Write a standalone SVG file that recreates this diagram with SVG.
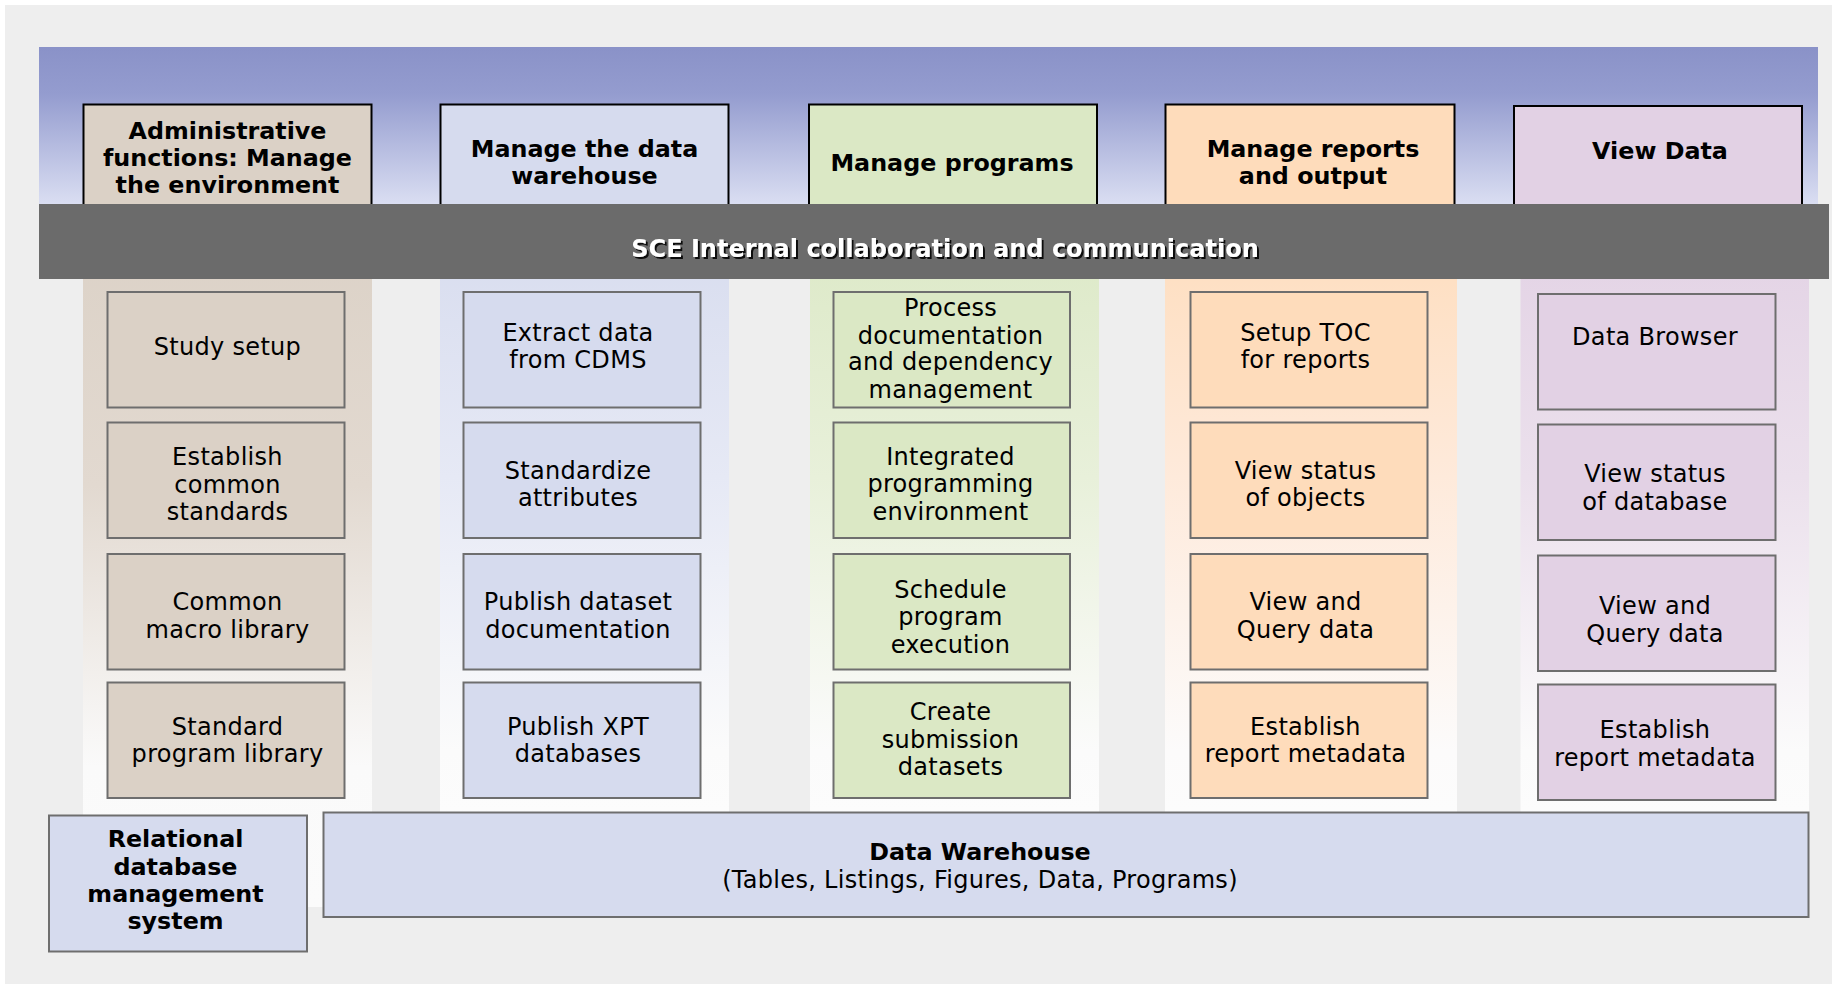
<svg xmlns="http://www.w3.org/2000/svg" width="1832" height="984" viewBox="0 0 1832 984">
<defs>
<linearGradient id="band" x1="0" y1="0" x2="0" y2="1">
<stop offset="0" stop-color="#8a92c8"/>
<stop offset="0.3" stop-color="#949ccf"/>
<stop offset="1" stop-color="#dadef2"/>
</linearGradient>
<linearGradient id="g1" x1="0" y1="0" x2="0" y2="1">
<stop offset="0" stop-color="#dbd1c6"/><stop offset="0.4" stop-color="#e2d9d0"/><stop offset="0.8" stop-color="#fafafa"/><stop offset="1" stop-color="#fbfbfb"/>
</linearGradient>
<linearGradient id="g2" x1="0" y1="0" x2="0" y2="1">
<stop offset="0" stop-color="#d6dbee"/><stop offset="0.45" stop-color="#e6e9f5"/><stop offset="0.9" stop-color="#fbfbfb"/><stop offset="1" stop-color="#fcfcfc"/>
</linearGradient>
<linearGradient id="g3" x1="0" y1="0" x2="0" y2="1">
<stop offset="0" stop-color="#dbe8c5"/><stop offset="0.45" stop-color="#e8f0da"/><stop offset="0.9" stop-color="#fbfbfb"/><stop offset="1" stop-color="#fcfcfc"/>
</linearGradient>
<linearGradient id="g4" x1="0" y1="0" x2="0" y2="1">
<stop offset="0" stop-color="#fedcbb"/><stop offset="0.45" stop-color="#feeadb"/><stop offset="0.9" stop-color="#fcfbfb"/><stop offset="1" stop-color="#fcfcfc"/>
</linearGradient>
<linearGradient id="g5" x1="0" y1="0" x2="0" y2="1">
<stop offset="0" stop-color="#e2d1e4"/><stop offset="0.45" stop-color="#ebe0ec"/><stop offset="0.9" stop-color="#fbfbfb"/><stop offset="1" stop-color="#fcfcfc"/>
</linearGradient>
<filter id="sh" x="-5%" y="-30%" width="110%" height="160%">
<feDropShadow dx="2" dy="2" stdDeviation="0.3" flood-color="#111" flood-opacity="1"/>
</filter>
</defs>
<style>
text{font-family:"DejaVu Sans",Verdana,sans-serif;text-anchor:middle;fill:#000}
.h{font-weight:bold;font-size:23.8px}
.t{font-size:24px;letter-spacing:0.3px}
.hb{stroke:#000;stroke-width:2}
.ib{stroke:#6e6e6e;stroke-width:2}
.f1{fill:#dbd1c6}.f2{fill:#d6dbee}.f3{fill:#dbe8c5}.f4{fill:#fedcbb}.f5{fill:#e2d1e4}
</style>
<rect x="5" y="5" width="1827" height="979" fill="#eeeeee"/>
<rect x="39" y="47" width="1779" height="157" fill="url(#band)"/>
<g id="columns">
<rect x="83" y="204" width="289" height="703" fill="url(#g1)"/>
<rect x="440" y="204" width="289" height="608" fill="url(#g2)"/>
<rect x="810" y="204" width="289" height="608" fill="url(#g3)"/>
<rect x="1165" y="204" width="292" height="608" fill="url(#g4)"/>
<rect x="1520.5" y="204" width="288.5" height="608" fill="url(#g5)"/>
</g>
<g id="header-admin">
<rect class="hb f1" x="83.5" y="104.5" width="288" height="110"/>
<text class="h" x="227.5" y="139">Administrative</text>
<text class="h" x="227.5" y="166">functions: Manage</text>
<text class="h" x="227.5" y="193">the environment</text>
</g>
<g id="header-warehouse">
<rect class="hb f2" x="440.5" y="104.5" width="288" height="110"/>
<text class="h" x="584.5" y="157">Manage the data</text>
<text class="h" x="584.5" y="184">warehouse</text>
</g>
<g id="header-programs">
<rect class="hb f3" x="809" y="104.5" width="288" height="110"/>
<text class="h" x="952" y="171">Manage programs</text>
</g>
<g id="header-reports">
<rect class="hb f4" x="1165.5" y="104.5" width="289" height="110"/>
<text class="h" x="1313" y="157">Manage reports</text>
<text class="h" x="1313" y="184">and output</text>
</g>
<g id="header-view">
<rect class="hb f5" x="1514" y="106" width="288" height="108"/>
<text class="h" x="1660" y="159">View Data</text>
</g>
<g id="sce-bar">
<rect x="39" y="204" width="1790" height="75" fill="#6b6b6b"/>
<text x="945" y="257" font-size="24" font-weight="bold" fill="#fff" style="fill:#fff" filter="url(#sh)">SCE Internal collaboration and communication</text>
</g>
<g id="study-setup"><rect class="ib f1" x="107.5" y="292" width="237" height="115.5"/><text class="t" x="227.5" y="355">Study setup</text></g>
<g id="establish-standards"><rect class="ib f1" x="107.5" y="422.5" width="237" height="115.5"/><text class="t" x="227.5" y="465">Establish</text><text class="t" x="227.5" y="492.5">common</text><text class="t" x="227.5" y="520">standards</text></g>
<g id="macro-library"><rect class="ib f1" x="107.5" y="554" width="237" height="115.5"/><text class="t" x="227.5" y="610">Common</text><text class="t" x="227.5" y="637.5">macro library</text></g>
<g id="program-library"><rect class="ib f1" x="107.5" y="682.5" width="237" height="115.5"/><text class="t" x="227.5" y="734.5">Standard</text><text class="t" x="227.5" y="762">program library</text></g>

<g id="extract-data"><rect class="ib f2" x="463.5" y="292" width="237" height="115.5"/><text class="t" x="578" y="341">Extract data</text><text class="t" x="578" y="368">from CDMS</text></g>
<g id="standardize"><rect class="ib f2" x="463.5" y="422.5" width="237" height="115.5"/><text class="t" x="578" y="479">Standardize</text><text class="t" x="578" y="505.5">attributes</text></g>
<g id="publish-doc"><rect class="ib f2" x="463.5" y="554" width="237" height="115.5"/><text class="t" x="578" y="610">Publish dataset</text><text class="t" x="578" y="637.5">documentation</text></g>
<g id="publish-xpt"><rect class="ib f2" x="463.5" y="682.5" width="237" height="115.5"/><text class="t" x="578" y="734.5">Publish XPT</text><text class="t" x="578" y="762">databases</text></g>

<g id="process-doc"><rect class="ib f3" x="833.5" y="292" width="236.5" height="115.5"/><text class="t" x="950.5" y="316">Process</text><text class="t" x="950.5" y="343.5">documentation</text><text class="t" x="950.5" y="370">and dependency</text><text class="t" x="950.5" y="397.5">management</text></g>
<g id="ide"><rect class="ib f3" x="833.5" y="422.5" width="236.5" height="115.5"/><text class="t" x="950.5" y="465">Integrated</text><text class="t" x="950.5" y="492">programming</text><text class="t" x="950.5" y="520">environment</text></g>
<g id="schedule"><rect class="ib f3" x="833.5" y="554" width="236.5" height="115.5"/><text class="t" x="950.5" y="597.5">Schedule</text><text class="t" x="950.5" y="625">program</text><text class="t" x="950.5" y="653">execution</text></g>
<g id="submission"><rect class="ib f3" x="833.5" y="682.5" width="236.5" height="115.5"/><text class="t" x="950.5" y="720">Create</text><text class="t" x="950.5" y="747.5">submission</text><text class="t" x="950.5" y="775">datasets</text></g>

<g id="setup-toc"><rect class="ib f4" x="1190.5" y="292" width="237" height="115.5"/><text class="t" x="1305.5" y="341">Setup TOC</text><text class="t" x="1305.5" y="368">for reports</text></g>
<g id="status-objects"><rect class="ib f4" x="1190.5" y="422.5" width="237" height="115.5"/><text class="t" x="1305.5" y="479">View status</text><text class="t" x="1305.5" y="505.5">of objects</text></g>
<g id="query-reports"><rect class="ib f4" x="1190.5" y="554" width="237" height="115.5"/><text class="t" x="1305.5" y="610">View and</text><text class="t" x="1305.5" y="637.5">Query data</text></g>
<g id="metadata-reports"><rect class="ib f4" x="1190.5" y="682.5" width="237" height="115.5"/><text class="t" x="1305.5" y="734.5">Establish</text><text class="t" x="1305.5" y="761.5">report metadata</text></g>

<g id="data-browser"><rect class="ib f5" x="1538" y="294" width="237.5" height="115.5"/><text class="t" x="1655" y="344.5">Data Browser</text></g>
<g id="status-database"><rect class="ib f5" x="1538" y="424.5" width="237.5" height="115.5"/><text class="t" x="1655" y="482">View status</text><text class="t" x="1655" y="510">of database</text></g>
<g id="query-view"><rect class="ib f5" x="1538" y="555.5" width="237.5" height="115.5"/><text class="t" x="1655" y="613.5">View and</text><text class="t" x="1655" y="641.5">Query data</text></g>
<g id="metadata-view"><rect class="ib f5" x="1538" y="684.5" width="237.5" height="115.5"/><text class="t" x="1655" y="738">Establish</text><text class="t" x="1655" y="765.5">report metadata</text></g>

<g id="rdbms"><rect class="ib f2" x="49" y="815.5" width="258" height="136"/><text class="h" x="175.5" y="847">Relational</text><text class="h" x="175.5" y="875">database</text><text class="h" x="175.5" y="902">management</text><text class="h" x="175.5" y="928.5">system</text></g>
<g id="data-warehouse"><rect class="ib f2" x="323.5" y="812.5" width="1485" height="104.5"/><text class="h" x="980" y="860">Data Warehouse</text><text class="t" x="980" y="887.5">(Tables, Listings, Figures, Data, Programs)</text></g>
<g id="connectors"/>
</svg>
